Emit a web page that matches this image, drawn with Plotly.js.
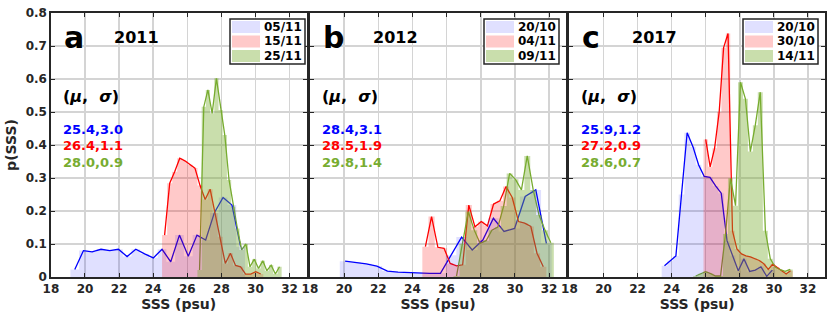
<!DOCTYPE html>
<html><head><meta charset="utf-8">
<script src="https://cdn.plot.ly/plotly-3.0.1.min.js"></script>
<style>html,body{margin:0;padding:0;background:#fff;}#chart{width:830px;height:317px;}</style>
</head><body><div id="chart"></div>
<script>
// ---- data: bin centres (psu) and p(SSS) ----
// panel a, 2011
const a_blue_x = [19.40,19.91,20.42,20.94,21.45,21.96,22.47,22.98,23.50,24.01,24.52,25.03,25.54,26.06,26.57,27.08,27.59,28.10,28.62,29.13];
const a_blue_y = [0.023,0.080,0.076,0.084,0.080,0.084,0.062,0.084,0.070,0.058,0.084,0.046,0.127,0.063,0.127,0.112,0.195,0.241,0.218,0.092];
const a_red_x  = [24.67,24.97,25.26,25.56,25.86,26.16,26.45,26.75,27.05,27.34,27.64,27.94,28.23,28.53,28.83,29.13,29.42,29.72,30.02,30.31];
const a_red_y  = [0.127,0.284,0.319,0.360,0.352,0.340,0.330,0.277,0.235,0.266,0.193,0.122,0.041,0.072,0.035,0.031,0.009,0.009,0.016,0.009];
const a_green_x = [26.72,26.97,27.21,27.46,27.71,27.96,28.20,28.45,28.70,28.94,29.19,29.44,29.68,29.93,30.18,30.43,30.67,30.92,31.17,31.41];
const a_green_y = [0.021,0.516,0.567,0.496,0.602,0.506,0.430,0.294,0.213,0.147,0.082,0.100,0.031,0.054,0.026,0.049,0.019,0.036,0.009,0.031];
// panel b, 2012
const b_blue_x = [20.06,20.68,21.30,21.92,22.54,23.16,23.78,24.40,25.02,25.64,26.26,26.88,27.50,28.12,28.74,29.36,29.98,30.60,31.22,31.84];
const b_blue_y = [0.048,0.045,0.040,0.033,0.018,0.015,0.013,0.012,0.011,0.011,0.066,0.121,0.082,0.112,0.178,0.138,0.147,0.244,0.264,0.102];
const b_red_x  = [24.76,25.12,25.49,25.85,26.21,26.58,26.94,27.30,27.66,28.03,28.39,28.75,29.12,29.48,29.84,30.21,30.57,30.93,31.29,31.66];
const b_red_y  = [0.092,0.183,0.090,0.087,0.041,0.034,0.037,0.218,0.152,0.168,0.155,0.221,0.231,0.274,0.241,0.168,0.163,0.153,0.072,0.031];
const b_green_x = [26.58,26.93,27.27,27.62,27.96,28.31,28.65,29.00,29.34,29.69,30.03,30.38,30.72,31.07,31.41,31.76,32.10];
const b_green_y = [0.003,0.100,0.198,0.142,0.102,0.110,0.142,0.151,0.215,0.314,0.296,0.264,0.367,0.264,0.188,0.142,0.104];
// panel c, 2017
const c_blue_x = [23.58,23.91,24.25,24.58,24.91,25.25,25.58,25.91,26.25,26.58,26.91,27.25,27.58,27.91,28.24,28.58,28.91,29.24,29.58,29.91];
const c_blue_y = [0.034,0.049,0.064,0.250,0.437,0.395,0.340,0.305,0.302,0.276,0.254,0.110,0.065,0.019,0.055,0.017,0.021,0.031,0.002,0.021];
const c_red_x  = [26.00,26.26,26.52,26.79,27.05,27.31,27.57,27.83,28.10,28.36,28.62,28.88,29.14,29.41,29.67,29.93,30.19,30.45,30.72,30.98];
const c_red_y  = [0.417,0.334,0.390,0.500,0.695,0.738,0.140,0.085,0.070,0.064,0.061,0.056,0.050,0.040,0.023,0.039,0.030,0.020,0.009,0.019];
const c_green_x = [25.41,25.70,25.99,26.29,26.58,26.87,27.16,27.45,27.75,28.04,28.33,28.62,28.91,29.20,29.50,29.79,30.08,30.37,30.66,30.96];
const c_green_y = [0.003,0.010,0.016,0.010,0.003,0.003,0.130,0.299,0.216,0.590,0.540,0.380,0.460,0.560,0.140,0.055,0.030,0.022,0.017,0.023];

const panelLetters = ['a','b','c'];
const panelYears = ['2011','2012','2017'];
const legendDates = [['05/11','15/11','25/11'],['20/10','04/11','09/11'],['20/10','30/10','14/11']];
const statsText = [['25.4,3.0','26.4,1.1','28.0,0.9'],['28.4,3.1','28.5,1.9','29.8,1.4'],['25.9,1.2','27.2,0.9','28.6,0.7']];
const xTicks = [18,20,22,24,26,28,30,32];
const yTicks = [0,0.1,0.2,0.3,0.4,0.5,0.6,0.7,0.8];

// ---- styling ----
const lineCol = ['#0000ff','#ff0000','#77ac30'];
const fillCol = ['rgba(0,0,255,0.12)','rgba(255,0,0,0.21)','rgba(119,172,48,0.40)'];
const FONT = 'DejaVu Sans';
const panels = [
  [[a_blue_x,a_blue_y],[a_red_x,a_red_y],[a_green_x,a_green_y]],
  [[b_blue_x,b_blue_y],[b_red_x,b_red_y],[b_green_x,b_green_y]],
  [[c_blue_x,c_blue_y],[c_red_x,c_red_y],[c_green_x,c_green_y]]
];

// plot-area pixel frame: margins l=50, r=5, t=13, b=40
const L=50, R=825, T=13, B=277;
const PW = R-L, PH = B-T;
const fx = p => (p-L)/PW;
const fy = p => (B-p)/PH;
// panel pixel extents (x=18 .. x=33)
const panelPx = [[50.9,306.6],[309.9,566.2],[569.4,825]];
const legendRight = [305, 559, 818];

function histPoly(xs, ys){
  const w = xs[1]-xs[0];
  const px=[xs[0]-w/2], py=[0];
  for(let i=0;i<xs.length;i++){ px.push(xs[i]-w/2, xs[i]+w/2); py.push(ys[i], ys[i]); }
  px.push(xs[xs.length-1]+w/2); py.push(0);
  return [px,py];
}

const traces=[];
const layout = {
  width:830, height:317, margin:{l:L,r:830-R,t:T,b:317-B}, showlegend:false,
  paper_bgcolor:'#fff', plot_bgcolor:'#fff',
  font:{family:FONT, size:12, color:'#262626', weight:'bold'},
  annotations:[], shapes:[]
};

panels.forEach((series, p) => {
  const xa = p===0 ? 'x' : 'x'+(p+1);
  const ya = p===0 ? 'y' : 'y'+(p+1);
  // lines first, then translucent histogram fills on top
  series.forEach((s,k) => traces.push({type:'scatter', mode:'lines', x:s[0], y:s[1], xaxis:xa, yaxis:ya,
      line:{color:lineCol[k], width:1.3}, hoverinfo:'skip'}));
  series.forEach((s,k) => { const hp = histPoly(s[0], s[1]);
      traces.push({type:'scatter', mode:'lines', x:hp[0], y:hp[1], xaxis:xa, yaxis:ya, fill:'toself',
        fillcolor:fillCol[k], line:{width:0, color:fillCol[k]}, hoverinfo:'skip'}); });

  const axBase = {showline:true, linecolor:'#262626', linewidth:1.6, mirror:'ticks', ticks:'inside', ticklen:4,
      tickwidth:1, tickcolor:'#262626', showgrid:true, gridcolor:'#d4d4d4', gridwidth:1.5, zeroline:false,
      tickfont:{family:FONT, size:12, weight:'bold', color:'#262626'}, automargin:false};
  layout[p===0?'xaxis':'xaxis'+(p+1)] = Object.assign({}, axBase, {
      domain:[fx(panelPx[p][0]), fx(panelPx[p][1])], range:[18,33], tickvals:xTicks, anchor:ya,
      title:{text:'SSS (psu)', font:{family:FONT, size:14, weight:'bold', color:'#262626'}, standoff:4}});
  layout[p===0?'yaxis':'yaxis'+(p+1)] = Object.assign({}, axBase, {
      domain:[0,1], range:[0,0.8], tickvals:yTicks, anchor:xa, showticklabels:p===0,
      title: p===0 ? {text:'p(SSS)', font:{family:FONT, size:14, weight:'bold', color:'#262626'}, standoff:6} : undefined});

  const x0 = panelPx[p][0];
  // panel letter and year
  layout.annotations.push({xref:'paper', yref:'paper', x:fx(x0+11), y:fy(37), xanchor:'left', yanchor:'middle',
      text:panelLetters[p], showarrow:false, font:{family:FONT, size:30, weight:'bold', color:'#000'}});
  layout.annotations.push({xref:'paper', yref:'paper', x:fx(x0+61), y:fy(37), xanchor:'left', yanchor:'middle',
      text:panelYears[p], showarrow:false, font:{family:FONT, size:16, weight:'bold', color:'#000'}});
  layout.annotations.push({xref:'paper', yref:'paper', x:fx(x0+10), y:fy(96), xanchor:'left', yanchor:'middle',
      text:'(<i>μ</i>,  <i>σ</i>)', showarrow:false, font:{family:FONT, size:16, weight:'bold', color:'#000'}});
  statsText[p].forEach((t,k) => layout.annotations.push({xref:'paper', yref:'paper', x:fx(x0+10), y:fy(129+16.5*k),
      xanchor:'left', yanchor:'middle', text:t, showarrow:false, font:{family:FONT, size:13, weight:'bold', color:lineCol[k]}}));

  // legend box
  const lx1 = legendRight[p], lx0 = lx1-75, ly0 = 19, ly1 = 64;
  layout.shapes.push({type:'rect', xref:'paper', yref:'paper', x0:fx(lx0), x1:fx(lx1), y0:fy(ly0), y1:fy(ly1),
      line:{color:'#262626', width:1.5}, fillcolor:'#fff'});
  legendDates[p].forEach((d,k) => {
    const cy = 27 + 14.5*k;
    layout.shapes.push({type:'rect', xref:'paper', yref:'paper', x0:fx(lx0+2), x1:fx(lx0+30), y0:fy(cy-6), y1:fy(cy+6),
        line:{width:0}, fillcolor:fillCol[k]});
    layout.annotations.push({xref:'paper', yref:'paper', x:fx(lx0+32), y:fy(cy), xanchor:'left', yanchor:'middle',
        text:d, showarrow:false, font:{family:FONT, size:12, weight:'bold', color:'#000'}});
  });
});

Plotly.newPlot('chart', traces, layout, {displayModeBar:false, staticPlot:true});
</script></body></html>
